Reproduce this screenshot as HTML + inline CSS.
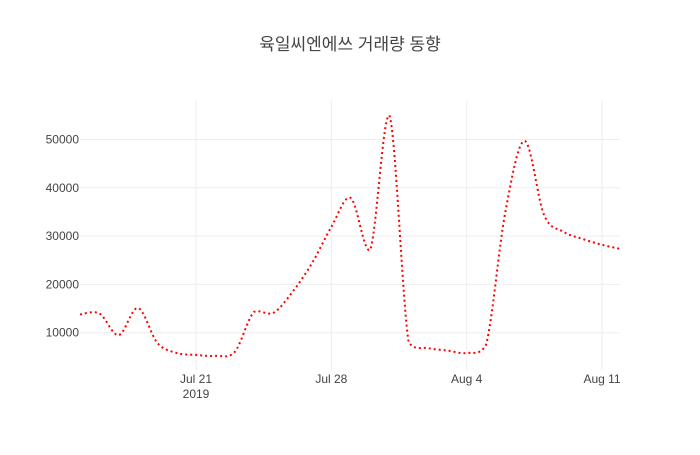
<!DOCTYPE html>
<html><head><meta charset="utf-8"><style>
body{margin:0;background:#fff}
svg text{font-family:"Liberation Sans","Noto Sans CJK KR",sans-serif}
</style></head><body>
<svg id="chart" width="700" height="450" xmlns="http://www.w3.org/2000/svg">
<rect width="700" height="450" fill="#fff"/>
<text x="350" y="50" text-anchor="middle" font-size="17" fill="#444">육일씨엔에쓰 거래량 동향</text>
<g id="grid"></g>
<g id="ticks"></g>
<path id="line" fill="none" stroke="#ff0000" stroke-width="2" stroke-dasharray="2,3"/>
</svg>
<script>
const dayOffsets=[0,1,2,3,4,5,6,7,8,9,10,11,12,13,14,15,16,17,18,19,20,21,22,23,24,25,26,27,28];
const volumes=[13800,14000,9500,15100,7900,5800,5400,5200,6000,14300,14100,18500,24400,31900,37900,27100,55000,8000,6800,6300,5800,7500,35000,49700,34400,30900,29400,28200,27300];
const yTicks=[10000,20000,30000,40000,50000];
const yTickLabels=["10000","20000","30000","40000","50000"];
const xTickDays=[6,13,20,27];
const xTickLabels=["Jul 21","Jul 28","Aug 4","Aug 11"];
const L=80,R=620,T=100,B=370;
const xs=d=>L+d*(R-L)/27.93;
const ys=v=>381-v*0.00483;
const svg="http://www.w3.org/2000/svg";
const grid=document.getElementById('grid'),ticks=document.getElementById('ticks');
yTicks.forEach((v,i)=>{
 const l=document.createElementNS(svg,'line');
 l.setAttribute('x1',L);l.setAttribute('x2',R);l.setAttribute('y1',ys(v));l.setAttribute('y2',ys(v));
 l.setAttribute('stroke','#eee');
 
 
 grid.appendChild(l);
 const t=document.createElementNS(svg,'text');
 t.setAttribute('x',L-1);t.setAttribute('y',ys(v)+4);t.setAttribute('text-anchor','end');
 t.setAttribute('font-size','12');t.setAttribute('fill','#444');t.textContent=yTickLabels[i];
 
 
 ticks.appendChild(t);
});
xTickDays.forEach((d,i)=>{
 const l=document.createElementNS(svg,'line');
 l.setAttribute('x1',xs(d));l.setAttribute('x2',xs(d));l.setAttribute('y1',T);l.setAttribute('y2',B);
 l.setAttribute('stroke','#eee');
 
 
 grid.appendChild(l);
 const t=document.createElementNS(svg,'text');
 t.setAttribute('x',xs(d));t.setAttribute('y',383);t.setAttribute('text-anchor','middle');
 t.setAttribute('font-size','12');t.setAttribute('fill','#444');t.textContent=xTickLabels[i];
 
 
 ticks.appendChild(t);
});
const yr=document.createElementNS(svg,'text');
yr.setAttribute('x',xs(6));yr.setAttribute('y',398);yr.setAttribute('text-anchor','middle');
yr.setAttribute('font-size','12');yr.setAttribute('fill','#444');yr.textContent='2019';


ticks.appendChild(yr);
const P=dayOffsets.map((d,i)=>[xs(d),ys(volumes[i])]);
let dstr=`M${P[0][0]},${P[0][1]}`;
const k=0.33;
const cl=(v,a,b)=>Math.max(Math.min(a,b)-3,Math.min(Math.max(a,b)+3,v));
for(let i=0;i<P.length-1;i++){
 const p0=P[Math.max(0,i-1)],p1=P[i],p2=P[i+1],p3=P[Math.min(P.length-1,i+2)];
 const c1=[p1[0]+(p2[0]-p0[0])*k/2,cl(p1[1]+(p2[1]-p0[1])*k/2,p1[1],p2[1])];
 const c2=[p2[0]-(p3[0]-p1[0])*k/2,cl(p2[1]-(p3[1]-p1[1])*k/2,p1[1],p2[1])];
 dstr+=`C${c1[0]},${c1[1]} ${c2[0]},${c2[1]} ${p2[0]},${p2[1]}`;
}
document.getElementById('line').setAttribute('d',dstr);
</script>
</body></html>
